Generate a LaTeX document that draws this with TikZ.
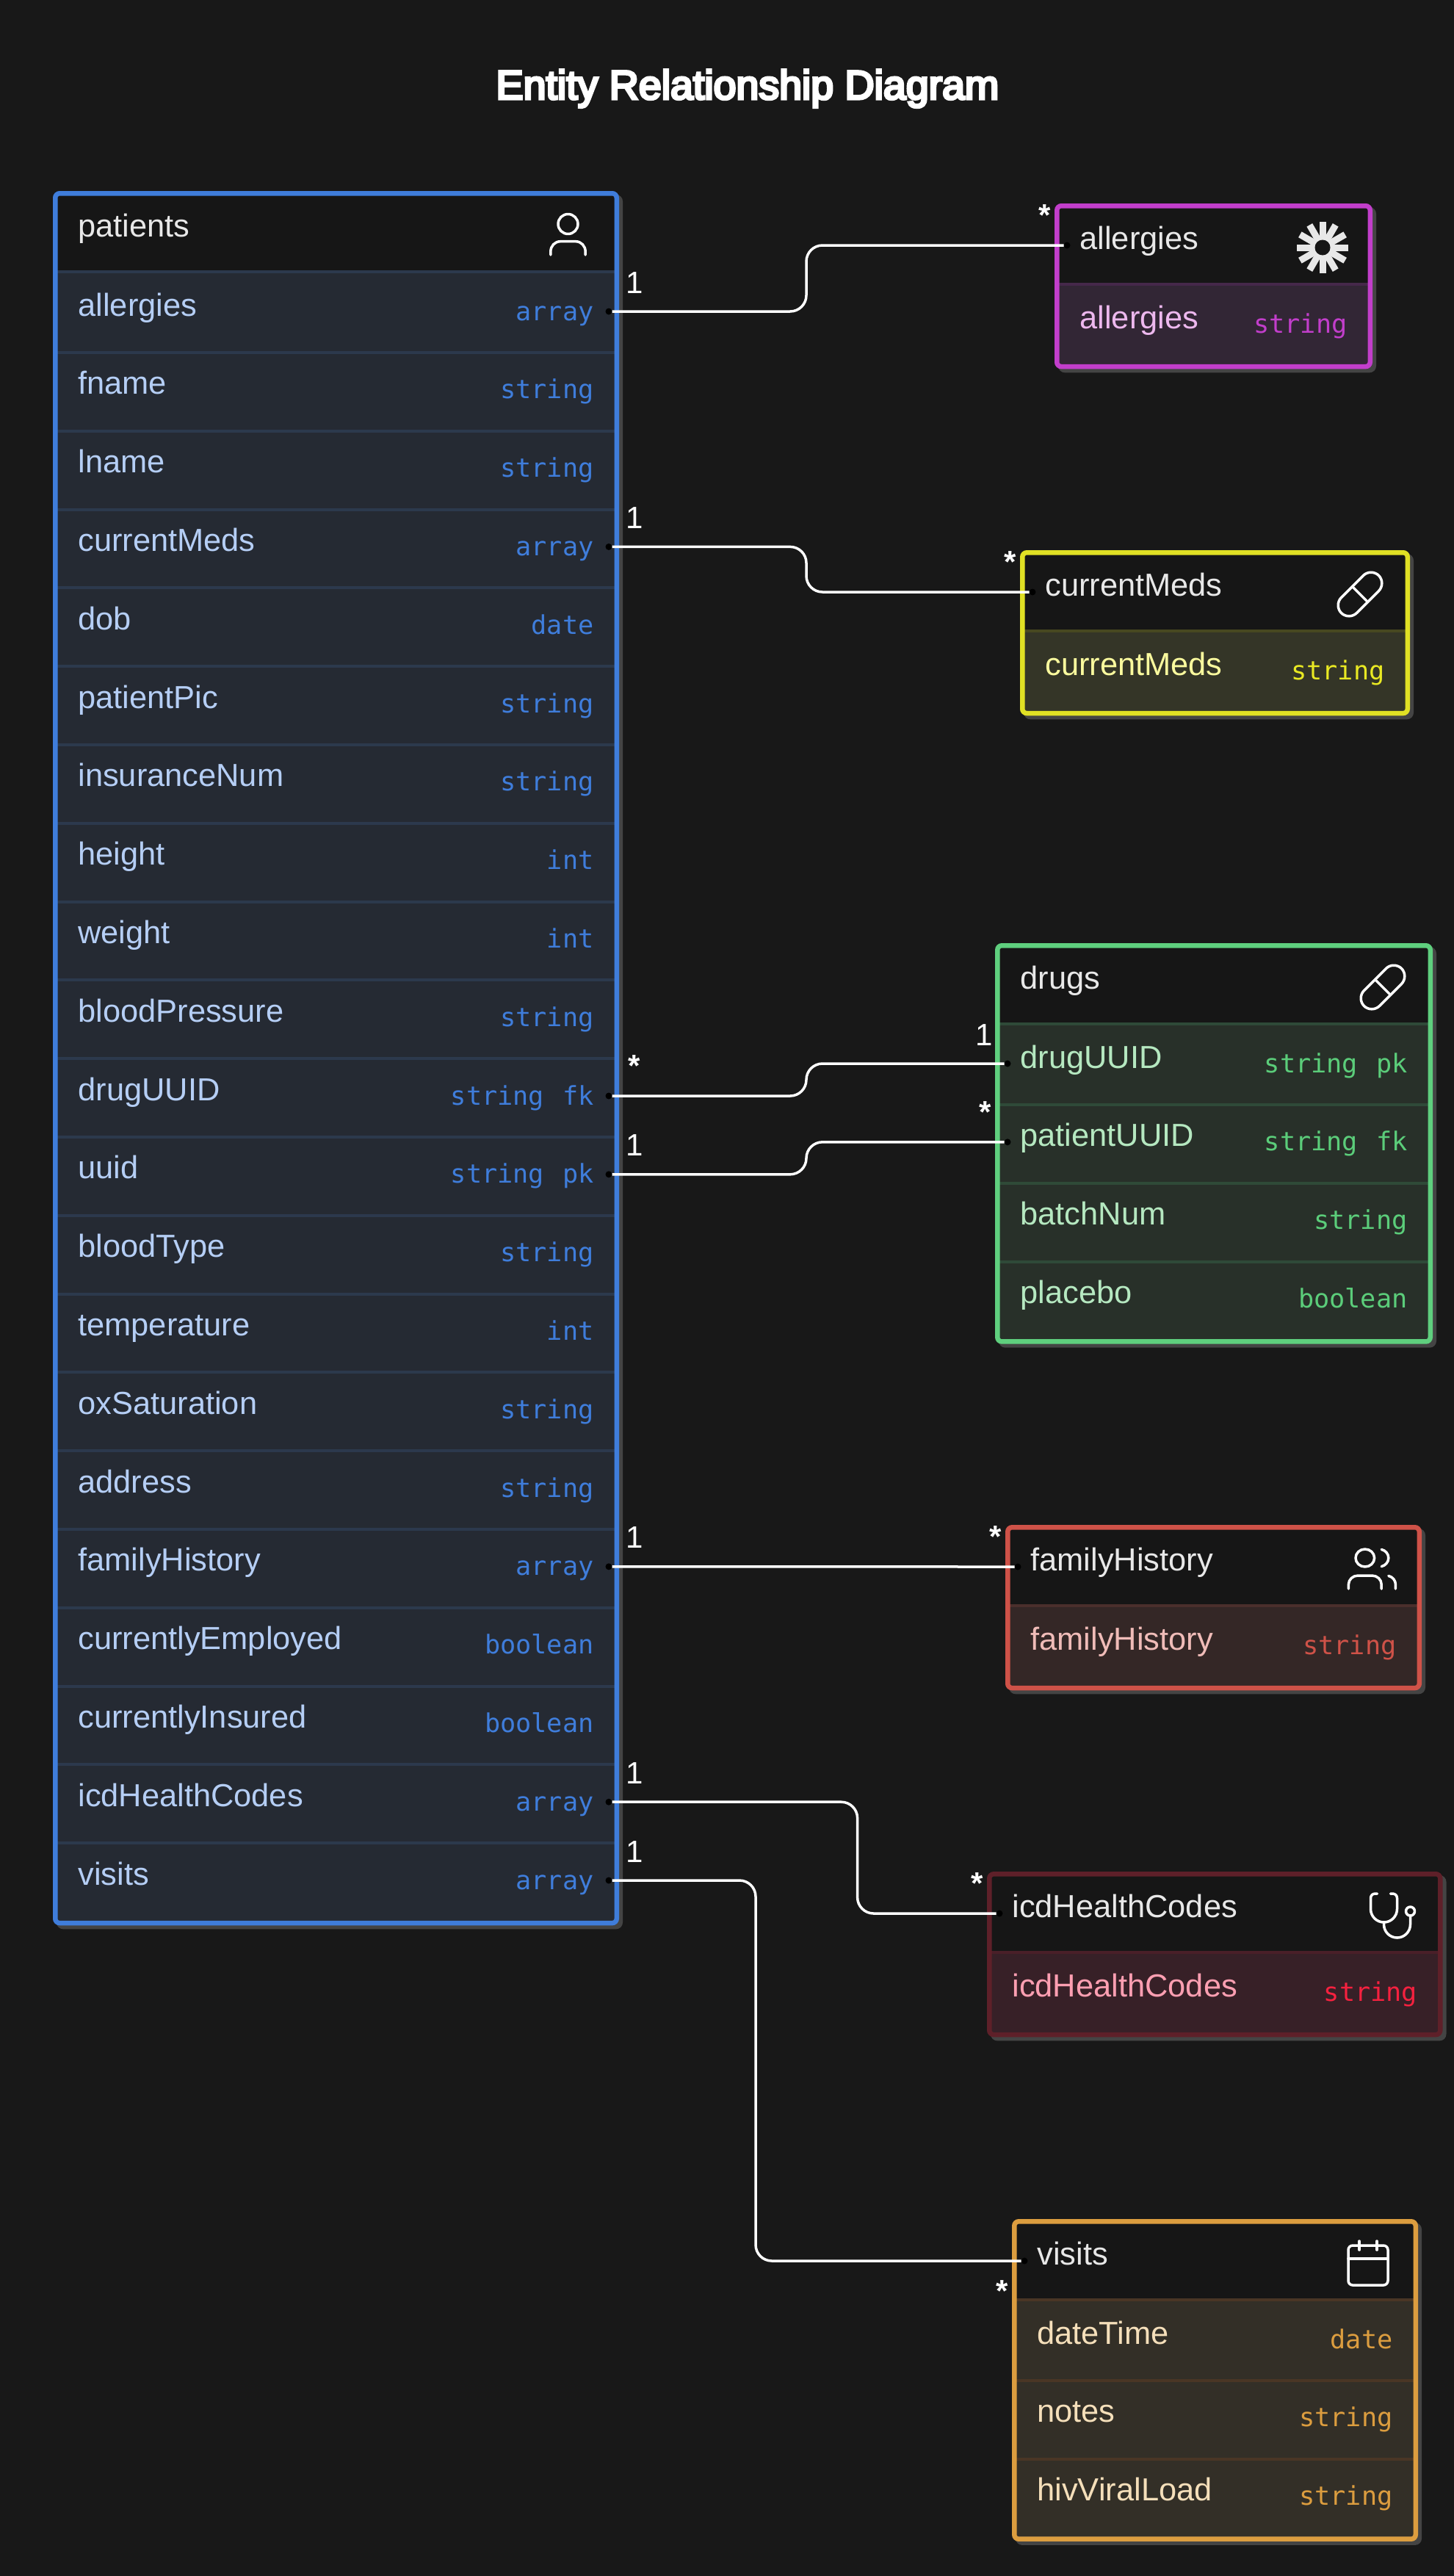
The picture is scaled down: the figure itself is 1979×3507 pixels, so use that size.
\documentclass[tikz,border=0pt]{standalone}
\usepackage{fontspec}
\setmainfont{Liberation Sans}
\newfontfamily\monof{DejaVu Sans Mono}
\newfontfamily\titlef[FakeBold=6]{Liberation Sans}
\usetikzlibrary{calc}
\definecolor{pagebg}{HTML}{181818}
\definecolor{headbg}{HTML}{161616}
\definecolor{shadowc}{HTML}{444444}
\definecolor{headtext}{HTML}{E8E8E8}
\definecolor{bPat}{HTML}{3F7DDB}\definecolor{fPat}{HTML}{252A33}\definecolor{dPat}{HTML}{2C394D}\definecolor{tPat}{HTML}{B5CEF5}\definecolor{yPat}{HTML}{3F7DDB}
\definecolor{bAll}{HTML}{C23ECB}\definecolor{fAll}{HTML}{322635}\definecolor{dAll}{HTML}{45284A}\definecolor{tAll}{HTML}{EDB8EE}\definecolor{yAll}{HTML}{C23ECB}
\definecolor{bCur}{HTML}{E0E024}\definecolor{fCur}{HTML}{343527}\definecolor{dCur}{HTML}{474820}\definecolor{tCur}{HTML}{FAFA9E}\definecolor{yCur}{HTML}{E9E923}
\definecolor{bDrg}{HTML}{5FCF7E}\definecolor{fDrg}{HTML}{283029}\definecolor{dDrg}{HTML}{2F4A38}\definecolor{tDrg}{HTML}{B5E8C0}\definecolor{yDrg}{HTML}{5BCD7A}
\definecolor{bFam}{HTML}{CF5248}\definecolor{fFam}{HTML}{342726}\definecolor{dFam}{HTML}{4A2F2C}\definecolor{tFam}{HTML}{F0BCB8}\definecolor{yFam}{HTML}{CF5248}
\definecolor{bIcd}{HTML}{5E2029}\definecolor{fIcd}{HTML}{372027}\definecolor{dIcd}{HTML}{4A1F28}\definecolor{tIcd}{HTML}{FF9FB2}\definecolor{yIcd}{HTML}{F5213F}
\definecolor{bVis}{HTML}{DC9D3F}\definecolor{fVis}{HTML}{332F27}\definecolor{dVis}{HTML}{4A3625}\definecolor{tVis}{HTML}{F5DFBA}\definecolor{yVis}{HTML}{DC9D3F}
\tikzset{
  rowbox/.style={rectangle,inner sep=0pt,outer sep=0pt,anchor=north west},
  fieldtext/.style={inner sep=0pt,outer sep=0pt,anchor=base west,font=\fontsize{43.4}{44}\selectfont},
  typetext/.style={inner sep=0pt,outer sep=0pt,anchor=base east,font=\monof\fontsize{35.2}{36}\selectfont},
  conn/.style={draw=white,line width=3.5pt,rounded corners=22pt},
  portdot/.style={circle,fill=black,inner sep=0pt,outer sep=0pt,minimum size=9pt},
  cardone/.style={inner sep=0pt,outer sep=0pt,anchor=base,text=white,font=\fontsize{42}{42}\selectfont},
  cardmany/.style={inner sep=0pt,outer sep=0pt,anchor=base,text=white,font=\bfseries\fontsize{42}{42}\selectfont},
  iconline/.style={draw=white,line width=3.5pt,line cap=round,line join=round},
}
% \tablebox{id}{colour suffix}{left}{top}{right}{row count}{header}{icon code}
\newcommand{\tablebox}[8]{%
  \pgfmathsetmacro{\Lft}{#3}\pgfmathsetmacro{\Tp}{#4}\pgfmathsetmacro{\Rgt}{#5}
  \pgfmathsetmacro{\Bt}{\Tp+112+106.8*#6+6.5}
  \path[fill=shadowc,rounded corners=9pt] (\Lft+5,\Tp+5) rectangle (\Rgt+5,\Bt+5);
  \node[rowbox,fill=headbg,minimum width={(\Rgt-\Lft-6)*1pt},minimum height=112pt] (#1-head) at (\Lft+3,\Tp) {};
  \node[fieldtext,text=headtext] (#1-title) at (\Lft+34.5,\Tp+62) {#7};
  \begin{scope}[shift={(\Rgt-104,\Tp+24)},x=3pt,y=-3pt]#8\end{scope}
}
\newcommand{\fieldrow}[7]{%
  \pgfmathsetmacro{\Yr}{#4+112+106.8*#6}
  \pgfmathsetmacro{\Dy}{#6==0?-2:1.2}
  \node[rowbox,fill=f#2,minimum width={(#5-#3-6)*1pt},minimum height=106.8pt] (#1-r#6) at (#3+3,\Yr) {};
  \draw[d#2,line width=4pt] ($(#1-r#6.north west)+(0,\Dy)$) -- ($(#1-r#6.north east)+(0,\Dy)$);
  \node[fieldtext,text=t#2] (#1-n#6) at (#3+34.5,\Yr+58) {#7};
}
\newcommand{\typeof}[7]{%
  \pgfmathsetmacro{\Yr}{#4+112+106.8*#6}
  \node[typetext,text=y#2] (#1-t#6) at (#5-34.5,\Yr+64) {#7};
}
\newcommand{\boxborder}[6]{%
  \pgfmathsetmacro{\Bt}{#4+112+106.8*#6+6.5}
  \node[rowbox,draw=b#2,line width=6.5pt,rounded corners=6pt,minimum width={(#5-#3-6.5)*1pt},minimum height={(\Bt-#4-6.5)*1pt}] (#1) at (#3+3.25,#4+3.25) {};
}
\newcommand{\icuser}{\draw[iconline] (11.5,7) circle[radius=4.5];
  \draw[iconline] (3.6,21) -- (3.6,19.5) .. controls (3.6,17) and (5.5,14.9) .. (8,14.9) -- (15,14.9) .. controls (17.5,14.9) and (19.4,17) .. (19.4,19.5) -- (19.4,21);}
\newcommand{\icpill}{\draw[iconline] (10.5,20.5) -- (20.5,10.5) .. controls (22.4,8.6) and (22.4,5.4) .. (20.5,3.5) .. controls (18.6,1.6) and (15.4,1.6) .. (13.5,3.5) -- (3.5,13.5) .. controls (1.6,15.4) and (1.6,18.6) .. (3.5,20.5) .. controls (5.4,22.4) and (8.6,22.4) .. (10.5,20.5) -- cycle;
  \draw[iconline] (8.5,8.5) -- (15.5,15.5);}
\newcommand{\icstar}{\foreach \a in {0,30,...,150}{\draw[draw=headtext,line width=9pt] ({12+11.8*cos(\a)},{12+11.8*sin(\a)}) -- ({12-11.8*cos(\a)},{12-11.8*sin(\a)});}
  \fill[headbg] (12,12) circle[radius=3.5];}
\newcommand{\icusers}{\begin{scope}[x=3.2pt,xshift=-2pt]\draw[iconline] (9,7) circle[radius=4];
  \draw[iconline] (2,21) -- (2,19) .. controls (2,16.8) and (3.8,15) .. (6,15) -- (12,15) .. controls (14.2,15) and (16,16.8) .. (16,19) -- (16,21);
  \draw[iconline] (22,21) -- (22,19) .. controls (22,17.2) and (20.8,15.6) .. (19,15.13);
  \draw[iconline] (16,3.13) .. controls (17.8,3.6) and (19,5.2) .. (19,7) .. controls (19,8.8) and (17.8,10.4) .. (16,10.88);\end{scope}}
\newcommand{\icsteth}{\draw[iconline] (5,2) -- (4,2) .. controls (2.9,2) and (2,2.9) .. (2,4) -- (2,9) .. controls (2,12.3) and (4.7,15) .. (8,15) .. controls (11.3,15) and (14,12.3) .. (14,9) -- (14,4) .. controls (14,2.9) and (13.1,2) .. (12,2) -- (11,2);
  \draw[iconline] (8,15) -- (8,16) .. controls (8,19.3) and (10.7,22) .. (14,22) .. controls (17.3,22) and (20,19.3) .. (20,16) -- (20,12);
  \draw[iconline] (20,10) circle[radius=2];}
\newcommand{\iccal}{\draw[iconline,rounded corners=6pt] (3,4) rectangle (21,22);
  \draw[iconline] (16,2) -- (16,6); \draw[iconline] (8,2) -- (8,6); \draw[iconline] (3,10) -- (21,10);}
\begin{document}
\begin{tikzpicture}[x=1pt,y=-1pt]
\useasboundingbox (0,0) rectangle (1979,3507);
\fill[pagebg] (-10,-10) rectangle (1990,3520);
\node[inner sep=0pt,anchor=base,text=white,font=\titlef\fontsize{55.5}{56}\selectfont] (title) at (1018,135) {Entity Relationship Diagram};

% patients
\tablebox{patients}{Pat}{72}{260}{843}{21}{patients}{\icuser}
\foreach \i/\n/\t in {0/allergies/array,1/fname/string,2/lname/string,3/currentMeds/array,4/dob/date,5/patientPic/string,6/insuranceNum/string,7/height/int,8/weight/int,9/bloodPressure/string,10/drugUUID/string\hspace{25pt}fk,11/uuid/string\hspace{25pt}pk,12/bloodType/string,13/temperature/int,14/oxSaturation/string,15/address/string,16/familyHistory/array,17/currentlyEmployed/boolean,18/currentlyInsured/boolean,19/icdHealthCodes/array,20/visits/array}{
  \fieldrow{patients}{Pat}{72}{260}{843}{\i}{\n}
  \typeof{patients}{Pat}{72}{260}{843}{\i}{\t}
}
\boxborder{patients}{Pat}{72}{260}{843}{21}

% allergies
\tablebox{allergies}{All}{1436}{277}{1869}{1}{allergies}{\icstar}
\fieldrow{allergies}{All}{1436}{277}{1869}{0}{allergies}
\typeof{allergies}{All}{1436}{277}{1869}{0}{string}
\boxborder{allergies}{All}{1436}{277}{1869}{1}

% currentMeds
\tablebox{meds}{Cur}{1389}{749}{1920}{1}{currentMeds}{\icpill}
\fieldrow{meds}{Cur}{1389}{749}{1920}{0}{currentMeds}
\typeof{meds}{Cur}{1389}{749}{1920}{0}{string}
\boxborder{meds}{Cur}{1389}{749}{1920}{1}

% drugs
\tablebox{drugs}{Drg}{1355}{1284}{1951}{4}{drugs}{\icpill}
\foreach \i/\n/\t in {0/drugUUID/string\hspace{25pt}pk,1/patientUUID/string\hspace{25pt}fk,2/batchNum/string,3/placebo/boolean}{
  \fieldrow{drugs}{Drg}{1355}{1284}{1951}{\i}{\n}
  \typeof{drugs}{Drg}{1355}{1284}{1951}{\i}{\t}
}
\boxborder{drugs}{Drg}{1355}{1284}{1951}{4}

% familyHistory
\tablebox{family}{Fam}{1369}{2076}{1936}{1}{familyHistory}{\icusers}
\fieldrow{family}{Fam}{1369}{2076}{1936}{0}{familyHistory}
\typeof{family}{Fam}{1369}{2076}{1936}{0}{string}
\boxborder{family}{Fam}{1369}{2076}{1936}{1}

% icdHealthCodes
\tablebox{icd}{Icd}{1344}{2548}{1964.5}{1}{icdHealthCodes}{\icsteth}
\fieldrow{icd}{Icd}{1344}{2548}{1964.5}{0}{icdHealthCodes}
\typeof{icd}{Icd}{1344}{2548}{1964.5}{0}{string}
\boxborder{icd}{Icd}{1344}{2548}{1964.5}{1}

% visits
\tablebox{visits}{Vis}{1378}{3021}{1931}{3}{visits}{\iccal}
\foreach \i/\n/\t in {0/dateTime/date,1/notes/string,2/hivViralLoad/string}{
  \fieldrow{visits}{Vis}{1378}{3021}{1931}{\i}{\n}
  \typeof{visits}{Vis}{1378}{3021}{1931}{\i}{\t}
}
\boxborder{visits}{Vis}{1378}{3021}{1931}{3}

% port dots
\foreach \id/\nm in {patients-r0/pa,patients-r3/pb,patients-r10/pc,patients-r11/pd,patients-r16/pe,patients-r19/pf,patients-r20/pg}{
  \node[portdot] (\nm) at ($(\id.east)+(-11,-1.4)$) {};
}
\node[portdot] (qa) at ($(allergies-head.west)+(14,1)$) {};
\node[portdot] (qb) at ($(meds-head.west)+(14,1)$) {};
\node[portdot] (qc) at ($(drugs-r0.west)+(14,-1.4)$) {};
\node[portdot] (qd) at ($(drugs-r1.west)+(14,-1.4)$) {};
\node[portdot] (qe) at ($(family-head.west)+(14,1)$) {};
\node[portdot] (qf) at ($(icd-head.west)+(14,1)$) {};
\node[portdot] (qg) at ($(visits-head.west)+(14,1)$) {};

% connector bend columns
\coordinate (mA) at (1098,0);
\coordinate (mF) at (1167.6,0);
\coordinate (mG) at (1029,0);
\draw[conn] (pa.east) -- (pa -| mA) -- (qa -| mA) -- (qa.west);
\draw[conn] (pb.east) -- (pb -| mA) -- (qb -| mA) -- (qb.west);
\draw[conn] (pc.east) -- (pc -| mA) -- (qc -| mA) -- (qc.west);
\draw[conn] (pd.east) -- (pd -| mA) -- (qd -| mA) -- (qd.west);
\draw[conn] (pe.east) -- (qe.west);
\draw[conn] (pf.east) -- (pf -| mF) -- (qf -| mF) -- (qf.west);
\draw[conn] (pg.east) -- (pg -| mG) -- (qg -| mG) -- (qg.west);

% cardinalities
\foreach \nm/\tx in {pa/1,pb/1,pd/1,pe/1,pf/1,pg/1}{
  \node[cardone] (c\nm) at ($(\nm)+(35,-25)$) {\tx};
}
\node[cardone] (cqc) at ($(qc)+(-32,-25)$) {1};
\node[cardmany] (cpc) at ($(pc)+(35,-26.5)$) {*};
\foreach \nm in {qa,qb,qd,qe,qf}{
  \node[cardmany] (c\nm) at ($(\nm)+(-30.5,-26.5)$) {*};
}
\node[cardmany] (cqg) at ($(qg)+(-30.5,55)$) {*};
\end{tikzpicture}
\end{document}
